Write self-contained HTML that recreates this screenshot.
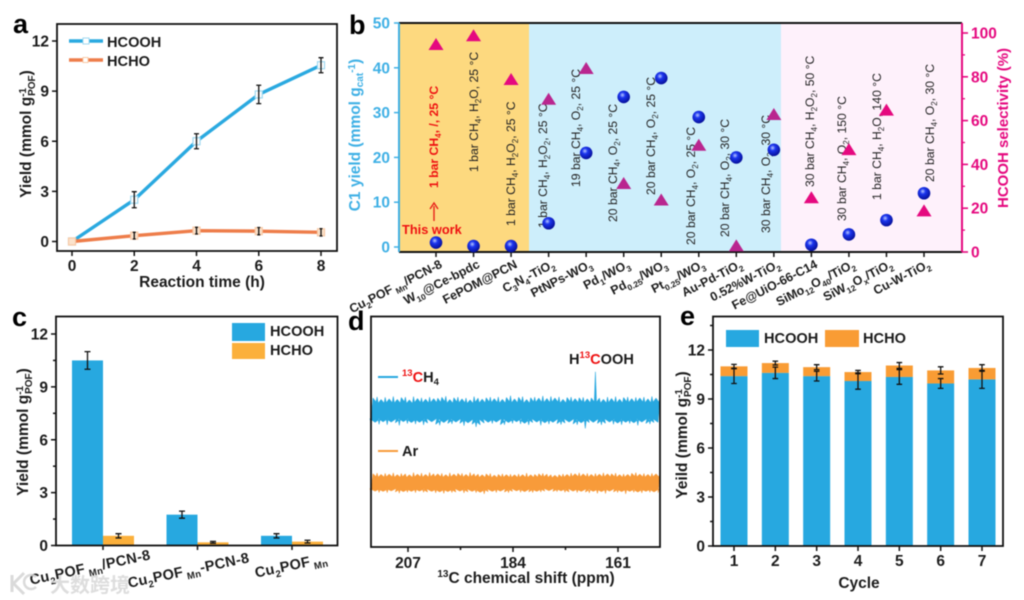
<!DOCTYPE html>
<html lang="en">
<head>
<meta charset="utf-8">
<title>Photocatalytic methane conversion figure</title>
<style>
html,body{margin:0;padding:0;background:#fff;width:1024px;height:600px;overflow:hidden}
svg{display:block;filter:blur(.6px)}
text{font-family:"Liberation Sans","Noto Sans CJK SC",sans-serif;fill:#1c1c1c}
.b{font-weight:bold}
.letter{font-weight:bold;font-size:27px;fill:#000}
.tick{font-weight:bold;font-size:15.5px}
.title{font-weight:bold;font-size:15.5px}
.leg{font-weight:bold;font-size:14.6px}
.cond{font-size:12.2px;fill:#222}
.red{fill:#ee1111}
</style>
</head>
<body>
<svg id="figure" width="1024" height="600" viewBox="0 0 1024 600" xmlns="http://www.w3.org/2000/svg">
<defs>
<radialGradient id="ball" cx="40%" cy="35%" r="65%">
<stop offset="0" stop-color="#b9c8ff"/>
<stop offset=".35" stop-color="#1b35ee"/>
<stop offset="1" stop-color="#07109a"/>
</radialGradient>
</defs>

<!-- Panel a -->
<g id="panel-a">
<text class="letter" x="13" y="33">a</text>
<text class="title" transform="translate(31,134) rotate(-90)" text-anchor="middle">Yield (mmol g<tspan font-size="10" dy="-5">-1</tspan><tspan font-size="10" dx="-8" dy="9">POF</tspan><tspan dy="-4">)</tspan></text>
<text class="title" x="202" y="287" text-anchor="middle">Reaction time (h)</text>
<line x1="69" y1="41" x2="103" y2="41" stroke="#2aa9e0" stroke-width="3.4"/>
<rect x="83" y="38" width="6" height="6" fill="#fff" stroke="#9fd8f0"/>
<text class="leg" x="107" y="47">HCOOH</text>
<line x1="69" y1="60" x2="103" y2="60" stroke="#ee7d4a" stroke-width="3.4"/>
<rect x="83" y="57.5" width="5" height="5" fill="#fff" stroke="#f8c9a5"/>
<text class="leg" x="107" y="66">HCHO</text>
</g>

<!-- Panel b -->
<g id="panel-b">
<rect x="399" y="23" width="130" height="229" fill="#fdd97f"/>
<rect x="529" y="23" width="252" height="229" fill="#cdeefb"/>
<rect x="781" y="23" width="181" height="229" fill="#fef1fb"/>
<text class="letter" x="349" y="34">b</text>
<text class="title" transform="translate(360,135) rotate(-90)" text-anchor="middle" style="fill:#3fb0e5">C1 yield (mmol g<tspan font-size="10" dy="3">cat</tspan><tspan font-size="10" dy="-8">-1</tspan><tspan dy="5">)</tspan></text>
<text class="title" transform="translate(1008,128) rotate(-90)" text-anchor="middle" style="fill:#e5097f;font-size:15px">HCOOH selectivity (%)</text>
<text class="cond b red" transform="translate(438,188) rotate(-90)">1 bar CH<tspan font-size="8" dy="3">4</tspan><tspan dy="-3">, /, 25 °C</tspan></text>
<text class="cond" transform="translate(478,172) rotate(-90)">1 bar CH<tspan font-size="8" dy="3">4</tspan><tspan dy="-3">, H</tspan><tspan font-size="8" dy="3">2</tspan><tspan dy="-3">O, 25 °C</tspan></text>
<text class="cond" transform="translate(515,226) rotate(-90)">1 bar CH<tspan font-size="8" dy="3">4</tspan><tspan dy="-3">, H</tspan><tspan font-size="8" dy="3">2</tspan><tspan dy="-3">O</tspan><tspan font-size="8" dy="3">2</tspan><tspan dy="-3">, 25 °C</tspan></text>
<text class="cond" transform="translate(547,228) rotate(-90)">1 bar CH<tspan font-size="8" dy="3">4</tspan><tspan dy="-3">, H</tspan><tspan font-size="8" dy="3">2</tspan><tspan dy="-3">O</tspan><tspan font-size="8" dy="3">2</tspan><tspan dy="-3">, 25 °C</tspan></text>
<text class="cond" transform="translate(580,187) rotate(-90)">19 bar CH<tspan font-size="8" dy="3">4</tspan><tspan dy="-3">, O</tspan><tspan font-size="8" dy="3">2</tspan><tspan dy="-3">, 25 °C</tspan></text>
<text class="cond" transform="translate(617,222) rotate(-90)">20 bar CH<tspan font-size="8" dy="3">4</tspan><tspan dy="-3">, O</tspan><tspan font-size="8" dy="3">2</tspan><tspan dy="-3">, 25 °C</tspan></text>
<text class="cond" transform="translate(655,195) rotate(-90)">20 bar CH<tspan font-size="8" dy="3">4</tspan><tspan dy="-3">, O</tspan><tspan font-size="8" dy="3">2</tspan><tspan dy="-3">, 25 °C</tspan></text>
<text class="cond" transform="translate(695,245) rotate(-90)">20 bar CH<tspan font-size="8" dy="3">4</tspan><tspan dy="-3">, O</tspan><tspan font-size="8" dy="3">2</tspan><tspan dy="-3">, 25 °C</tspan></text>
<text class="cond" transform="translate(729,237) rotate(-90)">20 bar CH<tspan font-size="8" dy="3">4</tspan><tspan dy="-3">, O</tspan><tspan font-size="8" dy="3">2</tspan><tspan dy="-3">, 30 °C</tspan></text>
<text class="cond" transform="translate(770,233) rotate(-90)">30 bar CH<tspan font-size="8" dy="3">4</tspan><tspan dy="-3">, O</tspan><tspan font-size="8" dy="3">2</tspan><tspan dy="-3">, 30 °C</tspan></text>
<text class="cond" transform="translate(814,187) rotate(-90)">30 bar CH<tspan font-size="8" dy="3">4</tspan><tspan dy="-3">, H</tspan><tspan font-size="8" dy="3">2</tspan><tspan dy="-3">O</tspan><tspan font-size="8" dy="3">2</tspan><tspan dy="-3">, 50 °C</tspan></text>
<text class="cond" transform="translate(846,221) rotate(-90)">30 bar CH<tspan font-size="8" dy="3">4</tspan><tspan dy="-3">, O</tspan><tspan font-size="8" dy="3">2</tspan><tspan dy="-3">, 150 °C</tspan></text>
<text class="cond" transform="translate(881,200) rotate(-90)">1 bar CH<tspan font-size="8" dy="3">4</tspan><tspan dy="-3">, H</tspan><tspan font-size="8" dy="3">2</tspan><tspan dy="-3">O, 140 °C</tspan></text>
<text class="cond" transform="translate(934,182) rotate(-90)">20 bar CH<tspan font-size="8" dy="3">4</tspan><tspan dy="-3">, O</tspan><tspan font-size="8" dy="3">2</tspan><tspan dy="-3">, 30 °C</tspan></text>
<text class="b red" x="402" y="234" font-size="12.8">This work</text>
<path d="M434 221V206M430 209L434 203L438 209" fill="none" stroke="#e8211a" stroke-width="1.4"/>
</g>

<!-- Panel c -->
<g id="panel-c">
<text class="letter" x="12" y="326">c</text>
<text class="title" transform="translate(28,432) rotate(-90)" text-anchor="middle">Yield (mmol g<tspan font-size="10" dy="-5">-1</tspan><tspan font-size="10" dx="-8" dy="9">POF</tspan><tspan dy="-4">)</tspan></text>
<rect x="232" y="323" width="33" height="18" fill="#27a8e0"/>
<rect x="232" y="343" width="33" height="16" fill="#fbb03b"/>
<text class="leg" x="270" y="336">HCOOH</text>
<text class="leg" x="270" y="355">HCHO</text>
</g>

<!-- Panel d -->
<g id="panel-d">
<text class="letter" x="348" y="330" font-size="27">d</text>
<line x1="378" y1="377" x2="398" y2="377" stroke="#27a8e0" stroke-width="2"/>
<text class="leg" x="402" y="382"><tspan class="red" font-size="9.5" dy="-6">13</tspan><tspan class="red" dy="6">C</tspan>H<tspan font-size="9.5" dy="3">4</tspan></text>
<line x1="378" y1="451" x2="398" y2="451" stroke="#f89b3a" stroke-width="2"/>
<text class="leg" x="402" y="456">Ar</text>
<text class="leg" x="569" y="364">H<tspan class="red" font-size="9.5" dy="-6">13</tspan><tspan class="red" dy="6">C</tspan>OOH</text>
<text class="title" x="526" y="583" text-anchor="middle"><tspan font-size="10" dy="-6">13</tspan><tspan dy="6">C chemical shift (ppm)</tspan></text>
</g>

<!-- Panel e -->
<g id="panel-e">
<text class="letter" x="680" y="325">e</text>
<text class="title" transform="translate(687,435) rotate(-90)" text-anchor="middle">Yeild (mmol g<tspan font-size="10" dy="-5">-1</tspan><tspan font-size="10" dx="-8" dy="9">POF</tspan><tspan dy="-4">)</tspan></text>
<text class="title" x="859" y="588" text-anchor="middle">Cycle</text>
<rect x="726" y="330" width="33" height="17" fill="#27a8e0"/>
<text class="leg" x="764" y="343">HCOOH</text>
<rect x="825" y="330" width="34" height="17" fill="#f99c34"/>
<text class="leg" x="863" y="343">HCHO</text>
</g>

<!-- Watermark -->
<g id="watermark" opacity=".85">
<path d="M12 575V592M13 584L24 573M14 584L24 594" fill="none" stroke="#d4d4d4" stroke-width="3"/>
<path d="M36 577A7 7 0 1 0 36 587" fill="none" stroke="#d4d4d4" stroke-width="2.5"/>
<text x="50" y="592" font-size="20" style="fill:#d8d8d8;font-weight:bold">大数跨境</text>
</g>
</svg>

<script>
/* Panel a data */
const aTicksX = [0, 2, 4, 6, 8];
const aTicksY = [0, 3, 6, 9, 12];
const aTime = [0, 2, 4, 6, 8];
const aHcooh = [0, 2.5, 6.0, 8.8, 10.55];
const aHcoohErr = [0, 0.48, 0.45, 0.55, 0.45];
const aHcho = [0, 0.35, 0.65, 0.62, 0.55];
const aHchoErr = [0, 0.2, 0.2, 0.22, 0.22];

/* Panel b data */
const bCategories = ['Cu_{2}POF_{ Mn}/PCN-8', 'W_{10}@Ce-bpdc', 'FePOM@PCN', 'C_{3}N_{4}-TiO_{2}', 'PtNPs-WO_{3}', 'Pd_{1}/WO_{3}', 'Pd_{0.25}/WO_{3}', 'Pt_{0.25}/WO_{3}', 'Au-Pd-TiO_{2}', '0.52%W-TiO_{2}', 'Fe@UiO-66-C14', 'SiMo_{12}O_{40}/TiO_{2}', 'SiW_{12}O_{x}/TiO_{2}', 'Cu-W-TiO_{2}'];
const bYield = [1, 0.2, 0.2, 5.3, 21, 33.5, 37.7, 29, 20, 21.7, 0.5, 2.8, 6, 12];
const bSelectivity = [95, 99, 79, 70, 84, 31.5, 24, 49, 3, 63, 25, 47, 65, 19];
const bLeftTicks = [0, 10, 20, 30, 40, 50];
const bRightTicks = [0, 20, 40, 60, 80, 100];
const bRightMinor = [10, 30, 50, 70, 90];

/* Panel c data */
const cCategories = ['Cu_{2}POF_{ Mn}/PCN-8', 'Cu_{2}POF_{ Mn}-PCN-8', 'Cu_{2}POF_{ Mn}'];
const cHcooh = [10.5, 1.75, 0.55];
const cHcho = [0.55, 0.18, 0.22];
const cHcoohErr = [0.5, 0.2, 0.12];
const cHchoErr = [0.12, 0.05, 0.08];
const cTicks = [0, 3, 6, 9, 12];
const cMinor = [1.5, 4.5, 7.5, 10.5];

/* Panel d data (signal amplitude, arbitrary units) */
const dTicks = [207, 184, 161];
const dMinor = [195.5, 172.5];
const dCh4Signal = [
-5.3,5.6,-4.9,6.1,-5.8,4.9,-4.7,5.9,-6.0,5.2,-4.8,6.3,
-5.1,5.0,-6.3,5.8,-4.6,6.0,-5.5,4.8,-5.0,6.2,-5.7,5.4,
-4.9,5.7,-6.1,5.1,-5.2,6.0,-4.7,5.3,-5.8,5.5,-6.2,5.9,
-5.0,6.4,-5.4,4.9,-5.6,5.7,-4.8,6.0,-5.3,5.2,-6.4,5.6,
-5.1,4.8,-5.7,6.2,-6.9,5.5,-6.0,5.1,-5.2,5.7,-4.9,6.0,
-5.5,5.3,-4.8,6.1,-5.9,5.0,-6.0,5.8,-5.0,6.6,-5.4,5.2,
-4.7,5.9,-5.6,6.2,-5.3,4.9,-6.1,5.7,-5.0,6.0,-4.8,5.5,
-6.2,6.5,-5.1,5.4,-5.7,6.3,-4.9,5.6,-5.5,6.1,-5.9,5.0,
-5.2,5.8,-4.8,6.0,-5.6,5.3,-6.0,5.7,-5.1,5.9,-7.6,5.2,
-5.0,5.6,-4.9,17.0,-5.4,5.5,-6.1,5.0,-5.3,6.0,-4.8,5.4,
-5.8,6.2,-5.2,5.1,-6.0,5.8,-4.9,6.1,-5.5,5.3,-5.1,5.9,
-6.3,5.6,-4.8,6.0,-5.4,5.2,-5.7,6.3,-5.0,5.5,-4.9,6.6
];
const dArSignal = [
-3.9,4.0,-3.5,4.3,-4.1,3.7,-3.6,4.2,-4.2,3.8,-3.4,4.4,
-3.8,3.6,-4.4,4.1,-3.7,3.9,-4.0,3.5,-3.6,4.5,-4.2,3.8,
-3.5,4.3,-4.0,3.7,-3.9,4.6,-3.6,4.0,-4.3,3.9,-3.8,4.2,
-4.5,3.6,-3.7,4.4,-4.1,3.8,-3.9,4.1,-3.5,4.2,-4.3,3.7,
-3.8,4.6,-3.6,4.0,-4.2,3.8,-4.0,3.5,-4.7,3.9,-3.7,4.1,
-3.6,3.4,-4.1,3.7,-3.5,4.0,-3.9,3.6,-4.2,3.8,-3.6,3.5,
-3.4,3.9,-4.0,3.6,-3.7,4.3,-3.8,3.5,-4.1,3.7,-3.6,4.0,
-3.9,4.2,-3.5,3.8,-3.3,3.5,-3.6,3.3,-3.7,3.6,-3.4,3.9,
-4.0,3.7,-3.8,4.3,-3.5,4.0,-4.1,4.4,-3.6,3.9,-3.9,4.2,
-4.3,3.7,-3.6,4.1,-4.5,3.8,-3.7,4.4,-4.6,3.9,-3.5,4.0,
-3.8,4.3,-4.1,3.6,-3.7,3.9,-4.7,3.7,-3.6,4.2,-4.0,4.5,
-3.9,3.8,-4.3,4.1,-3.6,3.7,-4.0,4.2,-3.8,3.9,-4.2,4.0
];

/* Panel e data */
const eCycles = [1, 2, 3, 4, 5, 6, 7];
const eHcooh = [10.4, 10.6, 10.4, 10.1, 10.35, 9.95, 10.2];
const eHcho = [0.6, 0.6, 0.55, 0.55, 0.7, 0.8, 0.7];
const eHcoohErr = [0.45, 0.35, 0.3, 0.5, 0.45, 0.3, 0.55];
const eHchoErr = [0.12, 0.12, 0.15, 0.1, 0.18, 0.22, 0.2];
const eTicks = [0, 3, 6, 9, 12];
const eMinor = [1.5, 4.5, 7.5, 10.5, 13.5];

const NS = 'http://www.w3.org/2000/svg';
function add(parent, tag, attrs, text) {
  const el = document.createElementNS(NS, tag);
  for (const k in attrs) el.setAttribute(k, attrs[k]);
  if (text !== undefined) el.textContent = text;
  parent.appendChild(el);
  return el;
}
function scale(d0, d1, r0, r1) {
  return function (v) { return r0 + (v - d0) * (r1 - r0) / (d1 - d0); };
}
function rich(el, str, size) {
  const parts = str.split(/(_\{[^}]*\})/);
  let down = false;
  parts.forEach(function (p) {
    if (!p) return;
    const t = document.createElementNS(NS, 'tspan');
    if (p.charAt(0) === '_') {
      t.textContent = p.slice(2, -1);
      t.setAttribute('font-size', size * 0.66);
      t.setAttribute('dy', size * 0.28);
      down = true;
    } else {
      t.textContent = p;
      if (down) t.setAttribute('dy', -size * 0.28);
      down = false;
    }
    el.appendChild(t);
  });
}
function frame(g, x, y, w, h, name) {
  const r = add(g, 'rect', { x: x, y: y, width: w, height: h, fill: 'none', stroke: '#111', 'stroke-width': 1.8 });
  
  
}
function tickY(g, vals, sy, xAxis, len, labelled, prefix) {
  vals.forEach(function (v) {
    const l = add(g, 'line', { x1: xAxis - len, x2: xAxis, y1: sy(v), y2: sy(v), stroke: '#111', 'stroke-width': 1.5 });
    
    
    if (labelled) {
      const t = add(g, 'text', { class: 'tick', x: xAxis - len - 3, y: sy(v) + 5.5, 'text-anchor': 'end' }, v);
      
      
    }
  });
}
function tickX(g, vals, sx, yAxis, len, labelY, prefix) {
  vals.forEach(function (v) {
    const l = add(g, 'line', { x1: sx(v), x2: sx(v), y1: yAxis, y2: yAxis + len, stroke: '#111', 'stroke-width': 1.5 });
    
    
    if (labelY) {
      const t = add(g, 'text', { class: 'tick', x: sx(v), y: labelY, 'text-anchor': 'middle' }, v);
      
      
    }
  });
}
function errorBar(g, x, y0, y1, cap, name) {
  const e = add(g, 'path', {
    d: 'M' + x + ' ' + y0 + 'V' + y1 + 'M' + (x - cap) + ' ' + y0 + 'H' + (x + cap) + 'M' + (x - cap) + ' ' + y1 + 'H' + (x + cap),
    fill: 'none', stroke: '#111', 'stroke-width': 1.3
  });
  
  
}

/* ---- Panel a ---- */
(function () {
  const g = document.getElementById('panel-a');
  const sx = scale(0, 8, 72, 321);
  const sy = scale(0, 12, 241.5, 41);
  frame(g, 57, 24, 280, 227, 'plot-frame-a');
  tickY(g, aTicksY, sy, 57, 5, true, 'a');
  tickX(g, aTicksX, sx, 251, 5, 271, 'a');
  function series(vals, errs, color, edge, fillColor, cap, name) {
    const line = add(g, 'polyline', {
      points: aTime.map(function (t, i) { return sx(t) + ',' + sy(vals[i]); }).join(' '),
      fill: 'none', stroke: color, 'stroke-width': 3.4, 'stroke-linejoin': 'round'
    });
    
    
    aTime.forEach(function (t, i) {
      const m = add(g, 'rect', { x: sx(t) - 3.5, y: sy(vals[i]) - 3.5, width: 7, height: 7, fill: fillColor, stroke: edge, 'stroke-width': 1.2 });
      
      
      if (errs[i] > 0) errorBar(g, sx(t), sy(vals[i] - errs[i]), sy(vals[i] + errs[i]), cap, name + '-error-bar');
    });
  }
  series(aHcooh, aHcoohErr, '#2aa9e0', '#9fd8f0', '#fff', 2.5, 'hcooh');
  series(aHcho, aHchoErr, '#ee7d4a', '#f8c9a5', '#fbe3cc', 1.5, 'hcho');
})();

/* ---- Panel b ---- */
(function () {
  const g = document.getElementById('panel-b');
  const sl = scale(0, 50, 247, 23);
  const sr = scale(0, 100, 252, 33);
  const catX = function (i) { return 436 + i * (924 - 436) / (bCategories.length - 1); };

  const top = add(g, 'line', { x1: 399, x2: 962, y1: 23, y2: 23, stroke: '#111', 'stroke-width': 2 });
  
  
  const bot = add(g, 'line', { x1: 399, x2: 962, y1: 252, y2: 252, stroke: '#111', 'stroke-width': 2 });
  
  
  const la = add(g, 'line', { x1: 399, x2: 399, y1: 23, y2: 252, stroke: '#3fb0e5', 'stroke-width': 2 });
  
  
  const ra = add(g, 'line', { x1: 962, x2: 962, y1: 23, y2: 252, stroke: '#e5097f', 'stroke-width': 2 });
  
  

  bLeftTicks.forEach(function (v) {
    const l = add(g, 'line', { x1: 394, x2: 399, y1: sl(v), y2: sl(v), stroke: '#3fb0e5', 'stroke-width': 1.5 });
    
    
    const t = add(g, 'text', { class: 'tick', x: 390, y: sl(v) + 5.5, 'text-anchor': 'end', style: 'fill:#3fb0e5' }, v);
    
    
  });
  bRightTicks.forEach(function (v) {
    const l = add(g, 'line', { x1: 962, x2: 968, y1: sr(v), y2: sr(v), stroke: '#e5097f', 'stroke-width': 1.6 });
    
    
    const t = add(g, 'text', { class: 'tick', x: 971, y: sr(v) + 5.5, style: 'fill:#e5097f' }, v);
    
    
  });
  bRightMinor.forEach(function (v) {
    const l = add(g, 'line', { x1: 962, x2: 965, y1: sr(v), y2: sr(v), stroke: '#e5097f', 'stroke-width': 1.3 });
    
    
  });

  bCategories.forEach(function (name, i) {
    const x = catX(i);
    const tl = add(g, 'line', { x1: x, x2: x, y1: 252, y2: 257, stroke: '#111', 'stroke-width': 1.5 });
    
    
    const lab = add(g, 'text', { class: 'b', 'font-size': 12.5, 'text-anchor': 'end', transform: 'translate(' + (x + 7) + ',267) rotate(-27)' });
    rich(lab, name, 12.5);
    
    

    const y = sr(bSelectivity[i]);
    const purple = i >= 3 && i <= 9;
    const tri = add(g, 'path', { d: 'M' + (x - 7.5) + ' ' + (y + 6) + 'L' + x + ' ' + (y - 6) + 'L' + (x + 7.5) + ' ' + (y + 6) + 'Z', fill: purple ? '#b9268f' : '#e5097f' });
    
    

    const c = add(g, 'circle', { cx: x, cy: sl(bYield[i]), r: 6.3, fill: 'url(#ball)' });
    
    
  });
})();

/* ---- Panel c ---- */
(function () {
  const g = document.getElementById('panel-c');
  const sy = scale(0, 12, 545.5, 334);
  const groupX = function (i) { return 103 + i * 94.5; };
  const bw = 31;
  cCategories.forEach(function (name, i) {
    const x = groupX(i);
    const a = add(g, 'rect', { x: x - bw, y: sy(cHcooh[i]), width: bw, height: sy(0) - sy(cHcooh[i]), fill: '#27a8e0' });
    
    
    const b = add(g, 'rect', { x: x, y: sy(cHcho[i]), width: bw, height: sy(0) - sy(cHcho[i]), fill: '#fbb03b' });
    
    
    errorBar(g, x - bw / 2, sy(cHcooh[i] - cHcoohErr[i]), sy(cHcooh[i] + cHcoohErr[i]), 3, 'error-bar-hcooh');
    errorBar(g, x + bw / 2, sy(cHcho[i] - cHchoErr[i]), sy(cHcho[i] + cHchoErr[i]), 3, 'error-bar-hcho');
    const tk = add(g, 'line', { x1: x, x2: x, y1: 545.5, y2: 550, stroke: '#111', 'stroke-width': 1.5 });
    
    
    const lab = add(g, 'text', { 'font-size': 14.5, style: 'font-weight:bold;letter-spacing:.3px', 'text-anchor': 'middle', transform: 'translate(' + (x - 12 + (i === 2 ? 12 : i === 0 ? 0 : 4)) + ',' + (i === 1 ? 575 : i === 2 ? 570 : 572) + ') rotate(-12)' });
    rich(lab, name, 14.5);
    
    
  });
  frame(g, 56, 316.5, 281.5, 229, 'plot-frame-c');
  tickY(g, cTicks, sy, 56, 5, true, 'c');
  tickY(g, cMinor, sy, 56, 3, false, 'c-minor');
})();

/* ---- Panel d ---- */
(function () {
  const g = document.getElementById('panel-d');
  const sx = scale(207, 161, 408, 618);
  const sy = scale(0, 100, 547, 316);
  const ppmStart = 215.1;
  const ppmStep = 0.4427;
  const ch4Offset = 58.9;
  const arOffset = 27.7;
  /* outline of one side of the noise band: tips at the data values, notches between them */
  function edge(samples, offset, depth) {
    const out = [];
    samples.forEach(function (s, k) {
      out.push(s.x.toFixed(1) + ',' + sy(offset + s.v).toFixed(1));
      const n = samples[k + 1];
      if (!n) return;
      const shallow = Math.abs(s.v) < Math.abs(n.v) ? s.v : n.v;
      const nx = Math.abs(s.v) > Math.abs(n.v) ? s.x + 1.1 : n.x - 1.1;
      out.push(nx.toFixed(1) + ',' + sy(offset + shallow * depth).toFixed(1));
    });
    return out;
  }
  function trace(vals, offset, color, name) {
    const samples = vals.map(function (v, i) { return { v: v, x: sx(ppmStart - i * ppmStep) }; });
    const upper = samples.filter(function (s) { return s.v > 0; });
    const lower = samples.filter(function (s) { return s.v <= 0; }).reverse();
    const p = add(g, 'polygon', {
      points: edge(upper, offset, 0.68).concat(edge(lower, offset, 0.68)).join(' '),
      fill: color, stroke: color, 'stroke-width': 0.6, 'stroke-linejoin': 'bevel'
    });
    
    
  }
  trace(dCh4Signal, ch4Offset, '#27a8e0', 'spectrum-13ch4');
  trace(dArSignal, arOffset, '#f89b3a', 'spectrum-ar');
  frame(g, 371, 316.5, 289, 230.5, 'plot-frame-d');
  tickX(g, dTicks, sx, 547, 5, 568, 'd');
  tickX(g, dMinor, sx, 547, 3, null, 'd-minor');
})();

/* ---- Panel e ---- */
(function () {
  const g = document.getElementById('panel-e');
  const sy = scale(0, 12, 546, 350);
  const sx = scale(1, 7, 734, 982);
  const bw = 27;
  eCycles.forEach(function (c, i) {
    const x = sx(c);
    const total = eHcooh[i] + eHcho[i];
    const a = add(g, 'rect', { x: x - bw / 2, y: sy(eHcooh[i]), width: bw, height: sy(0) - sy(eHcooh[i]), fill: '#27a8e0' });
    
    
    const b = add(g, 'rect', { x: x - bw / 2, y: sy(total), width: bw, height: sy(eHcooh[i]) - sy(total), fill: '#f99c34' });
    
    
    errorBar(g, x, sy(eHcooh[i] - eHcoohErr[i]), sy(eHcooh[i] + eHcoohErr[i]), 2.8, 'error-bar-hcooh-cycle');
    errorBar(g, x, sy(total - eHchoErr[i]), sy(total + eHchoErr[i]), 2.8, 'error-bar-hcho-cycle');
  });
  frame(g, 713, 316.5, 290, 229.5, 'plot-frame-e');
  tickY(g, eTicks, sy, 713, 5, true, 'e');
  tickY(g, eMinor, sy, 713, 3, false, 'e-minor');
  tickX(g, eCycles, sx, 546, 5, 566, 'e');
})();
</script>
</body>
</html>
